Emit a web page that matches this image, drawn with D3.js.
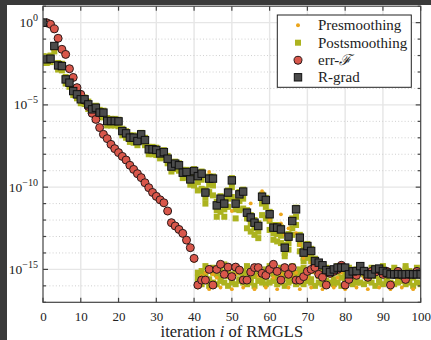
<!DOCTYPE html>
<html><head><meta charset="utf-8">
<script src="https://cdn.jsdelivr.net/npm/d3@7"></script>
<style>html,body{margin:0;padding:0;background:#3a3a3a;overflow:hidden}</style>
</head><body><svg id="c" width="431" height="340"></svg>
<script>
// ---- data (log10 of the plotted values), iteration index = array position + start ----
const xTicks = [0,10,20,30,40,50,60,70,80,90,100];
const yMajorExp = [0,-5,-10,-15];
const yDecadeExp = [1,0,-1,-2,-3,-4,-5,-6,-7,-8,-9,-10,-11,-12,-13,-14,-15,-16,-17];

const rgradExp = [0,-2.23,-2.19,-1.42,-2.60,-2.64,-3.45,-3.65,-4.16,-4.36,
 -4.66,-4.66,-4.97,-5.27,-5.17,-5.47,-5.47,-5.98,-5.98,-5.98,
 -6.00,-6.59,-6.73,-6.99,-6.99,-7.20,-6.79,-7.14,-7.70,-7.70,
 -7.74,-7.95,-7.87,-8.27,-8.75,-8.57,-8.67,-9.12,-9.08,-9.53,
 -9.02,-9.33,-9.18,-10.33,-9.48,-9.48,-11.11,-10.70,-11.00,-10.33,
 -9.59,-11.00,-10.44,-10.27,-11.55,-11.84,-12.16,-12.36,-10.58,-10.78,
 -11.65,-12.46,-12.46,-12.57,-13.68,-13.01,-12.06,-11.35,-13.07,-13.98,
 -13.58,-13.88,-14.49,-14.59,-14.75,-15.04,-15.16,-15.00,-14.89,-14.89,
 -14.89,-15.30,-15.12,-15.10,-14.80,-15.10,-15.30,-15.30,-15.00,-14.95,
 -15.10,-15.20,-15.30,-15.30,-15.28,-15.30,-15.30,-15.28,-15.30,-15.30,-15.30];

const errFExp = [0,-0.01,-0.10,-0.38,-0.95,-1.62,-1.93,-2.80,-3.33,-3.95,
 -4.36,-4.72,-5.09,-5.51,-5.88,-6.38,-6.79,-7.05,-7.40,-7.66,
 -7.90,-8.13,-8.35,-8.67,-8.92,-9.18,-9.42,-9.73,-10.03,-10.32,
 -10.56,-10.77,-10.95,-11.45,-12.16,-12.36,-12.57,-12.81,-13.22,-13.68,
 -14.33,-15.95,-15.65,-15.65,-15.00,-15.95,-15.00,-14.69,-15.30,-14.86,
 -15.44,-14.86,-15.04,-15.65,-15.65,-15.16,-14.89,-14.89,-15.24,-15.36,
 -15.00,-14.69,-15.12,-15.65,-14.89,-15.30,-14.89,-15.65,-15.65,-15.44,
 -15.12,-15.00,-14.88,-15.30,-15.48,-15.95,-15.24,-15.12,-15.00,-14.75,
 -15.95,-15.61,-15.12,-15.36,-15.00,-15.12,-15.48,-15.12,-15.16,-15.00,
 -15.30,-15.12,-15.95,-15.30,-15.12,-15.36,-15.61,-15.30,-15.30,-15.12,-15.30];

// Postsmoothing: iterations 0..72 (two rows), 40..72 (spread), 41..100 (three rows)
const postAExp = [-2.05,-2.05,-2.0,-1.55,-2.45,-2.50,-3.30,-3.50,-4.00,-4.20,
 -4.50,-4.55,-4.80,-5.10,-5.05,-5.30,-5.35,-5.80,-5.85,-5.85,
 -5.90,-6.45,-6.60,-6.85,-6.85,-7.05,-6.70,-7.00,-7.55,-7.55,
 -7.60,-7.80,-7.75,-8.10,-8.60,-8.45,-8.55,-8.95,-8.95,-9.35,
 -8.90,-9.20,-9.05,-10.15,-9.35,-9.35,-10.90,-10.55,-10.85,-10.20,
 -9.45,-10.85,-10.30,-10.15,-11.40,-11.70,-12.00,-12.20,-10.45,-10.65,
 -11.50,-12.30,-12.30,-12.45,-13.50,-12.85,-11.90,-11.25,-12.90,-13.80,
 -13.45,-13.75,-14.35];
const postBExp = [-2.45,-2.45,-2.40,-1.75,-2.85,-2.90,-3.70,-3.90,-4.40,-4.60,
 -4.90,-4.95,-5.25,-5.50,-5.45,-5.75,-5.75,-6.25,-6.25,-6.25,
 -6.30,-6.85,-7.00,-7.25,-7.30,-7.45,-7.10,-7.45,-8.00,-8.00,
 -8.05,-8.25,-8.20,-8.55,-9.05,-8.90,-9.00,-9.45,-9.40,-9.85,
 -9.40,-9.70,-9.55,-10.65,-9.85,-9.90,-11.40,-11.05,-11.35,-10.70,
 -10.00,-11.35,-10.85,-10.70,-11.90,-12.20,-12.50,-12.70,-11.00,-11.20,
 -12.05,-12.80,-12.85,-12.95,-14.00,-13.40,-12.50,-11.80,-13.45,-14.30,
 -13.95,-14.25,-14.75];
const postCExp = [-9.9,-10.2,-10.1,-11.0,-10.3,-10.5,-11.8,-11.5,-11.8,-11.2,
 -10.6,-11.9,-11.4,-11.3,-12.5,-12.7,-12.9,-13.1,-11.7,-11.9,
 -12.6,-13.2,-13.3,-13.4,-14.2,-13.8,-12.9,-12.3,-13.9,-14.5,
 -14.3,-14.5,-14.8];
const postL1Exp = [-15.2,-15.1,-15.3,-15.0,-15.2,-15.1,-15.0,-15.2,-15.1,-15.3,
 -15.0,-15.2,-15.1,-15.2,-15.3,-15.0,-15.1,-15.2,-15.0,-15.1,
 -15.2,-15.1,-15.3,-15.0,-15.2,-15.1,-15.2,-15.0,-15.1,-15.3,
 -15.1,-15.0,-15.2,-15.1,-15.3,-15.0,-15.1,-15.2,-15.0,-15.1,
 -15.2,-15.1,-15.0,-15.2,-15.1,-15.3,-15.1,-15.2,-15.0,-15.1,
 -15.2,-15.1,-15.3,-15.1,-15.2,-15.0,-15.1,-15.2,-15.1,-15.2];
const postL2Exp = [-15.8,-15.9,-15.7,-16.0,-15.8,-15.9,-15.7,-15.8,-16.0,-15.8,
 -15.9,-15.7,-15.8,-15.9,-15.8,-16.0,-15.7,-15.8,-15.9,-15.8,
 -15.7,-15.9,-15.8,-16.0,-15.8,-15.7,-15.9,-15.8,-15.9,-15.7,
 -15.8,-16.0,-15.8,-15.9,-15.7,-15.8,-15.9,-15.8,-16.0,-15.8,
 -15.7,-15.9,-15.8,-15.8,-15.9,-15.7,-15.8,-16.0,-15.8,-15.9,
 -15.7,-15.8,-15.9,-15.8,-15.7,-15.9,-15.8,-16.0,-15.8,-15.9];
const postL3Exp = [-15.5,-15.4,-14.8,-15.6,-14.9,-15.3,-15.5,-14.7,-15.4,-15.5,
 -14.9,-15.6,-15.3,-14.8,-15.5,-15.4,-14.9,-15.6,-15.5,-14.8,
 -15.3,-15.5,-14.9,-15.4,-15.6,-14.8,-15.5,-15.3,-14.9,-15.5,
 -15.6,-14.8,-15.4,-15.5,-14.9,-15.3,-15.6,-14.8,-15.5,-15.4,
 -14.9,-15.5,-15.6,-14.8,-15.3,-15.5,-14.9,-15.4,-15.6,-14.8,
 -15.5,-15.3,-14.9,-15.5,-15.6,-14.8,-15.4,-15.5,-14.9,-15.3];

// Presmoothing: iterations 0..40, 0..72, 60..72, 41..100
const preAExp = [-0.05,-0.1,-0.2,-0.5,-1.05,-1.7,-2.05,-2.9,-3.45,-4.05,
 -4.45,-4.85,-5.2,-5.6,-6.0,-6.5,-6.9,-7.15,-7.5,-7.8,
 -8.0,-8.25,-8.45,-8.8,-9.05,-9.3,-9.55,-9.85,-10.15,-10.45,
 -10.7,-10.9,-11.1,-11.6,-12.3,-12.5,-12.7,-12.95,-13.35,-13.8,-14.5];
const preBExp = [-2.2,-2.1,-2.3,-1.6,-2.7,-2.6,-3.5,-3.7,-4.2,-4.4,
 -4.7,-4.8,-5.0,-5.3,-5.3,-5.5,-5.6,-6.0,-6.1,-6.0,
 -6.1,-6.6,-6.8,-7.0,-7.1,-7.2,-6.9,-7.2,-7.7,-7.8,
 -7.8,-8.0,-7.9,-8.3,-8.8,-8.6,-8.7,-9.2,-9.1,-9.6,
 -9.1,-9.4,-9.2,-10.4,-9.08,-9.6,-11.2,-10.8,-11.1,-10.4,
 -11.45,-11.1,-10.5,-10.4,-11.6,-10.99,-12.2,-12.4,-10.24,-10.9,
 -11.7,-12.5,-12.5,-11.65,-13.7,-13.1,-12.1,-11.4,-13.1,-14.0,
 -13.6,-13.9,-14.5];
const preCExp = [-12.0,-12.3,-12.6,-12.2,-12.9,-12.5,-11.9,-12.8,-13.5,-14.3,-14.1,-14.6,-14.9];
const preLowExp = [-16.1,-15.4,-15.2,-16.2,-15.3,-15.5,-16.1,-15.2,-15.4,-16.2,
 -15.3,-15.1,-16.1,-15.5,-15.2,-16.2,-15.4,-15.3,-16.1,-15.2,
 -15.5,-16.2,-15.3,-15.1,-16.1,-15.4,-15.2,-16.2,-15.3,-15.5,
 -16.1,-15.2,-15.4,-16.2,-15.3,-15.1,-16.1,-15.5,-15.2,-16.2,
 -15.4,-15.3,-16.1,-15.2,-15.5,-16.2,-15.3,-15.1,-16.1,-15.4,
 -15.2,-16.2,-15.3,-15.5,-16.1,-15.2,-15.4,-16.2,-15.3,-15.1];

const legendLabels = ["Presmoothing","Postsmoothing","err-","R-grad"];

// ---- drawing ----
const pts = (arr, start) => arr.map((e, k) => ({i: start + k, v: Math.pow(10, e)}));
const COL_PRE = "#eba51c", COL_POST = "#acb31f", COL_ERR = "#d9574b", COL_RG = "#4b4b4b";
const FONT = "'Liberation Serif','DejaVu Serif',serif";

const svg = d3.select("#c");
svg.append("rect").attr("width",431).attr("height",340).attr("fill","#3a3a3a");
svg.append("rect").attr("x",7).attr("y",5).attr("width",424).attr("height",335).attr("fill","#fff");

const x = d3.scaleLinear().domain([0,100]).range([43,420.7]);
const y = d3.scaleLog().domain([1e-17,1e1]).range([302.3,6.2]);
const [x0,x1] = x.range(), [y0,y1] = y.range();

svg.append("clipPath").attr("id","pc").append("rect")
  .attr("x",x0).attr("y",y1).attr("width",x1-x0).attr("height",y0-y1);

// grid
const g = svg.append("g");
g.selectAll(".vg").data(xTicks.slice(1,-1)).join("line")
  .attr("x1",d=>x(d)).attr("x2",d=>x(d)).attr("y1",y1).attr("y2",y0)
  .attr("stroke","#e6e6e6").attr("stroke-width",1.4);
g.selectAll(".hg").data(yDecadeExp.slice(1,-1)).join("line")
  .attr("x1",x0).attr("x2",x1).attr("y1",d=>y(Math.pow(10,d))).attr("y2",d=>y(Math.pow(10,d)))
  .attr("stroke",d=>yMajorExp.includes(d)?"#e6e6e6":"#cfcfcf")
  .attr("stroke-width",d=>yMajorExp.includes(d)?1.4:1)
  .attr("stroke-dasharray",d=>yMajorExp.includes(d)?null:"1,2.2");

// marks
const m = svg.append("g").attr("clip-path","url(#pc)");
const sqr = (sel, data, s, fill, stroke) => sel.append("g").selectAll("rect").data(data).join("rect")
  .attr("x",d=>x(d.i)-s/2).attr("y",d=>y(d.v)-s/2).attr("width",s).attr("height",s)
  .attr("fill",fill).attr("stroke",stroke||"none").attr("stroke-width",stroke?1:0);
const dot = (sel, data, r, fill, stroke) => sel.append("g").selectAll("circle").data(data).join("circle")
  .attr("cx",d=>x(d.i)).attr("cy",d=>y(d.v)).attr("r",r)
  .attr("fill",fill).attr("stroke",stroke||"none").attr("stroke-width",stroke?1:0);

[pts(postAExp,0),pts(postBExp,0),pts(postCExp,40),pts(postL1Exp,41),pts(postL2Exp,41),pts(postL3Exp,41)]
  .forEach(d=>sqr(m,d,6,COL_POST));
[pts(preAExp,0),pts(preBExp,0),pts(preCExp,60),pts(preLowExp,41)]
  .forEach(d=>dot(m,d,1.9,COL_PRE));
dot(m, pts(errFExp,0), 4, COL_ERR, "#2a1a1a");
sqr(m, pts(rgradExp,0), 7.4, COL_RG, "#111");

// frame and ticks
const fr = svg.append("g").attr("stroke","#444").attr("stroke-width",1.2);
fr.append("rect").attr("x",x0).attr("y",y1).attr("width",x1-x0).attr("height",y0-y1).attr("fill","none");
xTicks.forEach(t=>{
  fr.append("line").attr("x1",x(t)).attr("x2",x(t)).attr("y1",y0).attr("y2",y0-4.5);
  fr.append("line").attr("x1",x(t)).attr("x2",x(t)).attr("y1",y1).attr("y2",y1+4.5);
});
yDecadeExp.forEach(e=>{
  const len = yMajorExp.includes(e) ? 5 : 3;
  const yy = y(Math.pow(10,e));
  fr.append("line").attr("x1",x0).attr("x2",x0+len).attr("y1",yy).attr("y2",yy);
  fr.append("line").attr("x1",x1).attr("x2",x1-len).attr("y1",yy).attr("y2",yy);
});

// x tick labels via axis
const xa = svg.append("g").attr("transform",`translate(0,${y0})`)
  .call(d3.axisBottom(x).tickValues(xTicks).tickSize(0).tickPadding(9).tickFormat(d3.format("d")));
xa.select(".domain").remove();
xa.selectAll("text").attr("font-family",FONT).attr("font-size",13).attr("fill","#222");

// y tick labels (10^e)
yMajorExp.forEach(e=>{
  const t = svg.append("text").attr("x",38).attr("y",y(Math.pow(10,e))+4.5)
    .attr("text-anchor","end").attr("font-family",FONT).attr("fill","#222");
  t.append("tspan").attr("font-size",13.5).text("10");
  t.append("tspan").attr("font-size",10).attr("dy",-6).text(e===0?"0":"\u2212"+(-e));
});

// x label
const xl = svg.append("text").attr("x",(x0+x1)/2).attr("y",337).attr("text-anchor","middle")
  .attr("font-family",FONT).attr("font-size",16.5).attr("fill","#222");
xl.append("tspan").text("iteration ");
xl.append("tspan").attr("font-style","italic").text("i");
xl.append("tspan").text(" of RMGLS");

// legend
const lg = svg.append("g");
lg.append("rect").attr("x",277.3).attr("y",15).attr("width",134).attr("height",72.3)
  .attr("fill","#fff").attr("stroke","#222").attr("stroke-width",1);
const ly = [25.3,42.7,60.3,77.3];
lg.append("circle").attr("cx",298).attr("cy",ly[0]).attr("r",2).attr("fill",COL_PRE);
lg.append("rect").attr("x",295).attr("y",ly[1]-3).attr("width",6).attr("height",6).attr("fill",COL_POST);
lg.append("circle").attr("cx",298).attr("cy",ly[2]).attr("r",4).attr("fill",COL_ERR).attr("stroke","#2a1a1a");
lg.append("rect").attr("x",294.3).attr("y",ly[3]-3.7).attr("width",7.4).attr("height",7.4).attr("fill",COL_RG).attr("stroke","#111");
legendLabels.forEach((s,k)=>{
  const t = lg.append("text").attr("x",318).attr("y",ly[k]+5).attr("font-family",FONT)
    .attr("font-size",15).attr("fill","#222").text(s);
  if (k===2) t.append("tspan").attr("font-style","italic").text("\u2131");
});
</script></body></html>
